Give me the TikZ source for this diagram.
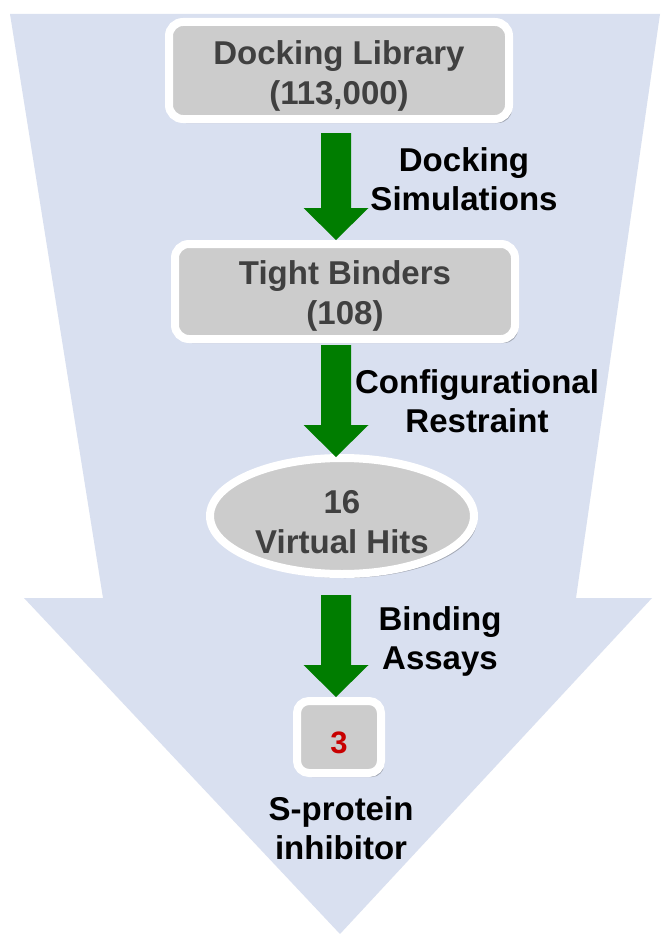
\documentclass[tikz,border=0pt]{standalone}
\usepackage{fontspec}
\setmainfont{Liberation Sans}
\usetikzlibrary{calc,shapes.geometric,shadows}
\definecolor{funnel}{RGB}{217,224,240}
\definecolor{boxgray}{RGB}{204,204,204}
\definecolor{boxtext}{RGB}{64,64,64}
\definecolor{arrgreen}{RGB}{0,125,0}
\definecolor{numred}{RGB}{200,0,0}
\newcommand\fatarrow[2]{\fill[arrgreen] let \p1=(#1), \p2=(#2) in
  (\x1-15pt,\y1) -- (\x1+15pt,\y1) -- (\x1+15pt,\y2+32pt) -- (\x1+32.5pt,\y2+32pt)
  -- (\x1,\y2) -- (\x1-32.5pt,\y2+32pt) -- (\x1-15pt,\y2+32pt) -- cycle;}
\newcommand\lift[1]{\rule{0pt}{#1}}
\begin{document}
\begin{tikzpicture}[x=1pt,y=-1pt,
  stagebox/.style={rectangle, rounded corners=14pt, fill=boxgray, draw=white,
    line width=8pt, inner sep=0pt, text=boxtext, align=center,
    font=\bfseries\fontsize{33}{40}\selectfont,
    drop shadow={shadow xshift=3pt,shadow yshift=-4pt,opacity=.25,fill=black}},
  stageoval/.style={stagebox, ellipse},
  steplabel/.style={font=\bfseries\fontsize{33}{39}\selectfont, text=black,
    align=center, inner sep=0pt}]
\fill[white] (0,0) rectangle (662,934);
\useasboundingbox (0,0) rectangle (662,934);
\fill[funnel] (10,14) -- (660,14) -- (576,598) -- (652,598) -- (340,934)
  -- (24,598) -- (103,598) -- cycle;
\coordinate (ax) at (336,0);
\node[stagebox, minimum width=340pt, minimum height=97pt] (lib) at (339,70.5)
  {\lift{35pt}Docking Library\\(113,000)};
\node[stagebox, minimum width=340pt, minimum height=95pt] (tight) at (345,291.5)
  {\lift{32pt}Tight Binders\\(108)};
\node[stageoval, minimum width=264pt, minimum height=116pt] (hits) at (342,516)
  {\lift{36pt}16\\Virtual Hits};
\node[stagebox, rounded corners=12pt, minimum width=84pt, minimum height=72pt,
  text=numred, font=\bfseries\fontsize{31}{36}\selectfont] (three) at (339,737)
  {\lift{34pt}3};
\fatarrow{$(lib.south -| ax)+(0,10)$}{tight.north -| ax}
\fatarrow{$(tight.south -| ax)+(0,2)$}{$(hits.north -| ax)+(0,3)$}
\fatarrow{$(hits.south -| ax)+(0,17)$}{three.north -| ax}
\node[steplabel] (l1) at (464,179) {Docking\\Simulations};
\node[steplabel] (l2) at (477,401) {Configurational\\Restraint};
\node[steplabel] (l3) at (440,641) {Binding\\Assays};
\node[steplabel] (l4) at (341,828) {S-protein\\inhibitor};
\end{tikzpicture}
\end{document}
